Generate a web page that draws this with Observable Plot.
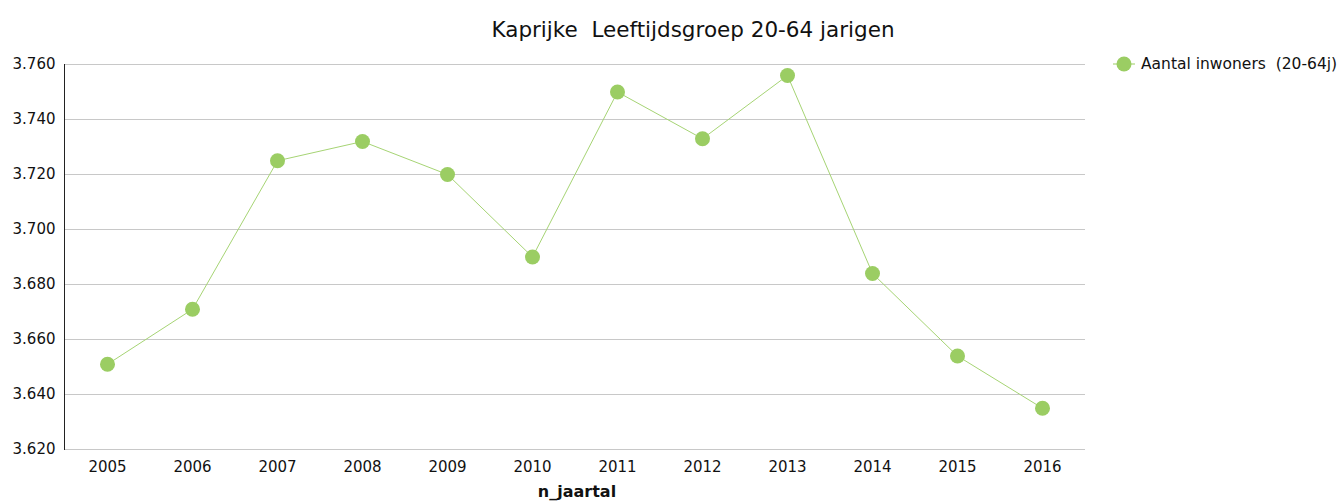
<!DOCTYPE html>
<html>
<head>
<meta charset="utf-8">
<script src="https://cdn.jsdelivr.net/npm/d3@7"></script>
<script src="https://cdn.jsdelivr.net/npm/@observablehq/plot@0.6"></script>
<style>
  html, body { margin: 0; padding: 0; background: #fff; }
  #wrap { position: relative; width: 1342px; height: 501px; font-family: "DejaVu Sans", sans-serif; }
  #title { position: absolute; left: 0; top: 17px; width: 1386px; text-align: center; font-size: 21.5px; color: #111; white-space: pre; }
  #legend { position: absolute; left: 1112px; top: 54px; display: flex; align-items: center; font-size: 15.5px; color: #111; white-space: pre; }
</style>
</head>
<body>
<div id="wrap">
  <div id="chart"></div>
  <div id="title">Kaprijke  Leeftijdsgroep 20-64 jarigen</div>
  <div id="legend"><svg width="24" height="20"><line x1="1" x2="23" y1="10" y2="10" stroke="#9bcd63" stroke-width="1"/><circle cx="12" cy="10" r="7.5" fill="#9bcd63"/></svg><span style="margin-left:5px">Aantal inwoners  (20-64j)</span></div>
</div>
<script>
const years = ["2005","2006","2007","2008","2009","2010","2011","2012","2013","2014","2015","2016"];
const inwoners = [3651, 3671, 3725, 3732, 3720, 3690, 3750, 3733, 3756, 3684, 3654, 3635];
const yTicks = [3620, 3640, 3660, 3680, 3700, 3720, 3740, 3760];
const xLabel = "n_jaartal";
const seriesName = "Aantal inwoners  (20-64j)";

const data = years.map((y, i) => ({jaar: y, waarde: inwoners[i]}));
const fmt = d => d3.format(",.0f")(d).replace(/,/g, ".");

const chart = Plot.plot({
  width: 1342,
  height: 501,
  marginLeft: 64,
  marginRight: 257,
  marginTop: 64,
  marginBottom: 52,
  style: {fontFamily: "DejaVu Sans, sans-serif", fontSize: "15px", color: "#111", background: "#fff"},
  x: {type: "point", domain: years, padding: 0.5, label: null},
  y: {domain: [3620, 3760], label: null},
  marks: [
    Plot.gridY(yTicks, {stroke: "#c8c8c8", strokeOpacity: 1, strokeWidth: 1}),
    Plot.axisY(yTicks, {tickSize: 0, tickPadding: 9, tickFormat: fmt, label: null}),
    Plot.axisX(years, {tickSize: 0, tickPadding: 12, label: null}),
    Plot.text([xLabel], {frameAnchor: "bottom", dx: 2, dy: 42, lineAnchor: "middle", textAnchor: "middle", fontWeight: "bold", fontSize: 16, fill: "#111"}),
    Plot.frame({anchor: "left", stroke: "#222"}),
    Plot.line(data, {x: "jaar", y: "waarde", stroke: "#a6d474", strokeWidth: 1}),
    Plot.dot(data, {x: "jaar", y: "waarde", r: 7.5, fill: "#9bcd63", stroke: "none"})
  ]
});
document.getElementById("chart").appendChild(chart);
</script>
</body>
</html>
